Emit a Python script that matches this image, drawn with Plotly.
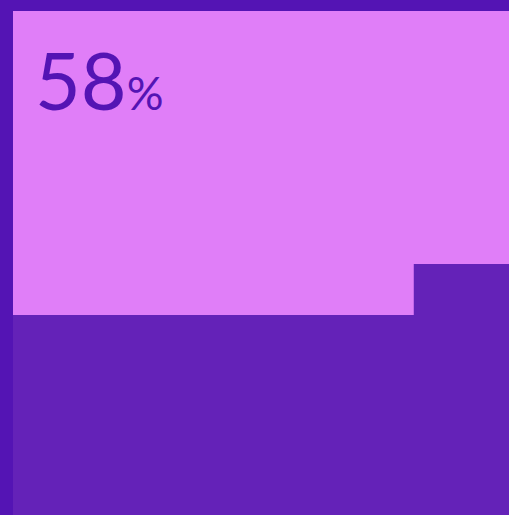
import plotly.graph_objects as go

# Data
step_x = [0, 80.8, 100]
step_y = [39.7, 49.8, 49.8]
stat_value = "58"
stat_unit = "%"

BORDER = "#5414B4"
PINK = "#E07EF8"
FILL = "#6422B8"

fig = go.Figure()
fig.add_trace(go.Scatter(
    x=step_x, y=step_y, mode="lines", line=dict(width=0, shape="hv"),
    fill="tozeroy", fillcolor=FILL, hoverinfo="skip", showlegend=False,
))

fig.add_annotation(
    xref="paper", yref="paper", x=0.041, y=0.963, xanchor="left", yanchor="top",
    text=f"{stat_value}<span style='font-size:46px'>{stat_unit}</span>",
    showarrow=False, font=dict(family="Lato", size=79, color=BORDER),
)

fig.update_layout(
    width=509, height=515,
    margin=dict(l=13, t=11, r=0, b=0),
    paper_bgcolor=BORDER, plot_bgcolor=PINK,
    xaxis=dict(range=[0, 100], visible=False, fixedrange=True),
    yaxis=dict(range=[0, 100], visible=False, fixedrange=True),
)
fig.write_html("out.html", config={"displayModeBar": False})
